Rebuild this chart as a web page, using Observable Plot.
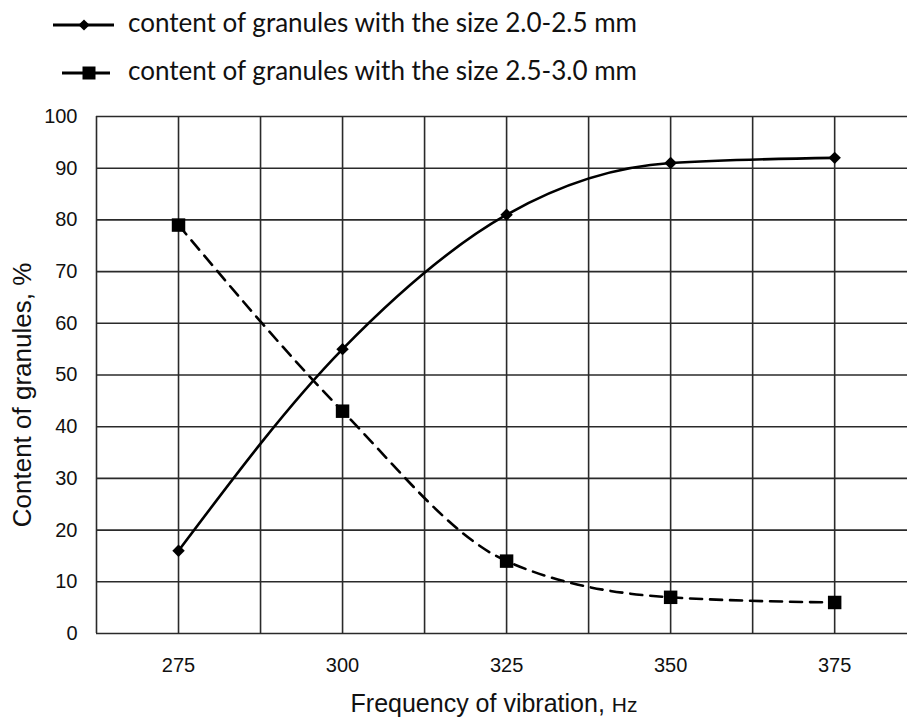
<!DOCTYPE html>
<html><head><meta charset="utf-8">
<script src="https://cdn.jsdelivr.net/npm/d3@7"></script>
<script src="https://cdn.jsdelivr.net/npm/@observablehq/plot@0.6"></script>
<style>
body{margin:0;background:#fff;}
#legend,#chart svg{display:block}
</style>
</head><body>
<svg id="legend" width="907" height="100"></svg>
<div id="chart"></div>
<script>
// ---- data ----
const frequency = [275, 300, 325, 350, 375];
const fineContent = [16, 55, 81, 91, 92];     // 2.0-2.5 mm
const coarseContent = [79, 43, 14, 7, 6];     // 2.5-3.0 mm
const seriesNames = ["content of granules with the size 2.0-2.5 mm", "content of granules with the size 2.5-3.0 mm"];
const xTicks = [275, 300, 325, 350, 375];
const xGrid = [262.5, 275, 287.5, 300, 312.5, 325, 337.5, 350, 362.5, 375];
const yTicks = [0, 10, 20, 30, 40, 50, 60, 70, 80, 90, 100];
const xTitle = "Frequency of vibration";
const xUnit = "Hz";
const yTitle = "Content of granules, %";

const fine = frequency.map((f, i) => ({f, v: fineContent[i]}));
const coarse = frequency.map((f, i) => ({f, v: coarseContent[i]}));

const font = "'Liberation Sans', Arial, sans-serif";

const plot = Plot.plot({
  width: 907, height: 620,
  marginTop: 16, marginLeft: 96, marginRight: 0, marginBottom: 87,
  style: {fontFamily: font, fontSize: "20px", color: "#111", background: "#fff"},
  x: {domain: [262.5, 386.1], ticks: xTicks, tickSize: 0, tickPadding: 24, label: null},
  y: {domain: [0, 100], ticks: yTicks, tickSize: 0, tickPadding: 19, label: null},
  marks: [
    Plot.ruleX(xGrid, {stroke: "#2a2a2a", strokeWidth: 1.6}),
    Plot.ruleY(yTicks, {stroke: "#2a2a2a", strokeWidth: 1.6}),
    Plot.line(fine, {x: "f", y: "v", curve: "monotone-x", stroke: "#000", strokeWidth: 2.6}),
    Plot.line(coarse, {x: "f", y: "v", curve: "monotone-x", stroke: "#000", strokeWidth: 2.6, strokeDasharray: "12,8"}),
    Plot.dot(fine, {x: "f", y: "v", symbol: "diamond2", r: 5.6, fill: "#000", stroke: "none"}),
    Plot.dot(coarse, {x: "f", y: "v", symbol: "square", r: 7.6, fill: "#000", stroke: "none"})
  ]
});
document.getElementById("chart").appendChild(plot);

// axis titles (svg starts 100px below the page top)
const svg = d3.select(plot);
const xt = svg.append("text")
  .attr("x", 494).attr("y", 612).attr("text-anchor", "middle")
  .attr("font-family", font).attr("font-size", 25).attr("fill", "#111");
xt.append("tspan").text(xTitle + ", ");
xt.append("tspan").attr("font-size", 21).text(xUnit);
svg.append("text")
  .attr("transform", "translate(31,295) rotate(-90)")
  .attr("text-anchor", "middle")
  .attr("font-family", font).attr("font-size", 26).attr("fill", "#111")
  .text(yTitle);

// legend
const lg = d3.select("#legend");
const rows = [{y: 25, base: 32, sym: d3.symbolDiamond2, size: 80, x1: 53, x2: 114, mx: 84},
              {y: 73, base: 80, sym: d3.symbolSquare, size: 169, x1: 62, x2: 110, mx: 89}];
rows.forEach((r, i) => {
  lg.append("line").attr("x1", r.x1).attr("x2", r.x2).attr("y1", r.y).attr("y2", r.y)
    .attr("stroke", "#000").attr("stroke-width", 2.8);
  lg.append("path").attr("d", d3.symbol(r.sym, r.size)()).attr("transform", `translate(${r.mx},${r.y})`).attr("fill", "#000");
  lg.append("text").attr("x", 128).attr("y", r.base)
    .attr("font-family", "Lato, 'Open Sans', sans-serif")
    .attr("font-size", 26).attr("fill", "#111")
    .attr("textLength", 509).attr("lengthAdjust", "spacingAndGlyphs")
    .text(seriesNames[i]);
});
</script>
</body></html>
